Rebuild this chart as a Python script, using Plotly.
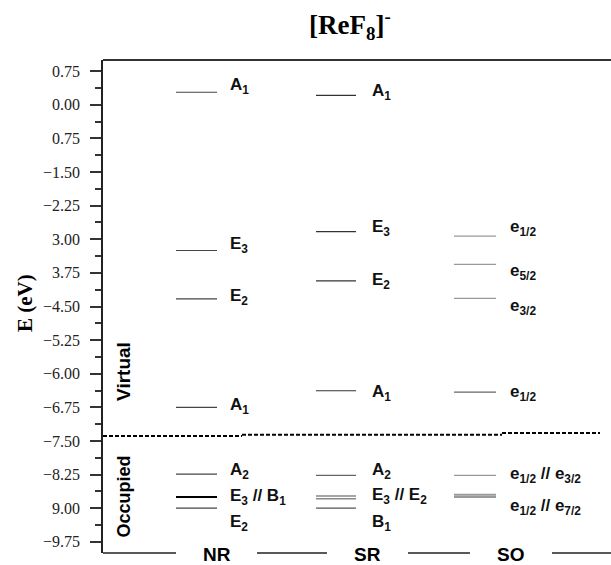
import plotly.graph_objects as go

# ---------------- data ----------------
columns = ["NR", "SR", "SO"]

nr_levels = [0.28, -3.25, -4.33, -6.75, -8.24, -8.75, -9.00]
nr_labels = ["A<sub>1</sub>", "E<sub>3</sub>", "E<sub>2</sub>", "A<sub>1</sub>",
             "A<sub>2</sub>", "E<sub>3</sub> // B<sub>1</sub>", "E<sub>2</sub>"]
nr_label_y = [0.43, -3.12, -4.28, -6.73, -8.17, -8.75, -9.32]

sr_levels = [0.21, -2.83, -3.93, -6.38, -8.27, -8.73, -8.79, -9.00]
sr_labels = ["A<sub>1</sub>", "E<sub>3</sub>", "E<sub>2</sub>", "A<sub>1</sub>",
             "A<sub>2</sub>", "E<sub>3</sub> // E<sub>2</sub>", "B<sub>1</sub>"]
sr_label_y = [0.29, -2.74, -3.94, -6.42, -8.17, -8.72, -9.34]

so_levels = [-2.93, -3.56, -4.32, -6.41, -8.27, -8.70, -8.75]
so_labels = ["e<sub>1/2</sub>", "e<sub>5/2</sub>", "e<sub>3/2</sub>", "e<sub>1/2</sub>",
             "e<sub>1/2</sub> // e<sub>3/2</sub>", "e<sub>1/2</sub> // e<sub>7/2</sub>"]
so_label_y = [-2.74, -3.73, -4.51, -6.44, -8.27, -8.97]

fermi_levels = [-7.39, -7.36, -7.32]

tick_vals = [0.75, 0.0, -0.75, -1.5, -2.25, -3.0, -3.75, -4.5, -5.25, -6.0,
             -6.75, -7.5, -8.25, -9.0, -9.75]
tick_text = ["0.75", "0.00", "0.75", "\u22121.50", "\u22122.25", "3.00", "3.75",
             "\u22124.50", "\u22125.25", "\u22126.00", "\u22126.75", "\u22127.50",
             "\u22128.25", "9.00", "\u22129.75"]

# ---------------- layout constants ----------------
W, H = 611, 565
L, R, T, B = 103, 0, 60, 12
col_span = {"NR": (73, 114), "SR": (213, 253), "SO": (351, 393)}
col_label_x = {"NR": 125, "SR": 267, "SO": 405}
col_title_x = {"NR": 114, "SR": 264, "SO": 407}
fermi_x = [(0, 139), (139, 399), (399, 497)]
bottom_segments = [(0, 73), (154, 224), (305, 367), (449, 508)]

fig = go.Figure()


def add_levels(col, levels, styles):
    x0, x1 = col_span[col]
    for e, (color, width) in zip(levels, styles):
        fig.add_trace(go.Scatter(x=[x0, x1], y=[e, e], mode="lines",
                                 line=dict(color=color, width=width),
                                 hoverinfo="skip", showlegend=False))


add_levels("NR", nr_levels, [("#444", 1.2)] * 5 + [("#000", 2)] + [("#444", 1.2)])
add_levels("SR", sr_levels, [("#333", 1.2)] * 4 + [("#666", 1.2), ("#888", 1.5), ("#888", 1.5), ("#555", 1.2)])
add_levels("SO", so_levels, [("#999", 1.2)] * 3 + [("#666", 1.2), ("#999", 1.2), ("#999", 2), ("#999", 2)])

for (x0, x1), e in zip(fermi_x, fermi_levels):
    fig.add_trace(go.Scatter(x=[x0, x1], y=[e, e], mode="lines",
                             line=dict(color="#000", width=2, dash="4px,2px"),
                             hoverinfo="skip", showlegend=False))

label_font = dict(family="Arial, Liberation Sans", size=17, color="#111")
for col, labs, ys in [("NR", nr_labels, nr_label_y), ("SR", sr_labels, sr_label_y),
                      ("SO", so_labels, so_label_y)]:
    for t, y in zip(labs, ys):
        fig.add_annotation(x=col_label_x[col], y=y, text="<b>" + t + "</b>",
                           showarrow=False, xanchor="left", yanchor="middle",
                           font=label_font)

for col in columns:
    fig.add_annotation(x=col_title_x[col], xref="x", yref="paper", y=-0.003,
                       text="<b>" + col + "</b>",
                       showarrow=False, xanchor="center", yanchor="middle",
                       font=dict(family="Arial, Liberation Sans", size=19, color="#000"))

for x0, x1 in bottom_segments:
    fig.add_shape(type="line", xref="x", yref="paper", x0=x0, x1=x1, y0=0, y1=0,
                  line=dict(color="#222", width=1.5))
fig.add_shape(type="line", xref="paper", yref="paper", x0=0, x1=1, y0=1, y1=1,
              line=dict(color="#333", width=2))

fig.add_annotation(x=21, y=-5.96, text="<b>Virtual</b>", textangle=-90, showarrow=False,
                   xanchor="center", yanchor="middle",
                   font=dict(family="Arial, Liberation Sans", size=19, color="#000"))
fig.add_annotation(x=21, y=-8.74, text="<b>Occupied</b>", textangle=-90, showarrow=False,
                   xanchor="center", yanchor="middle",
                   font=dict(family="Arial, Liberation Sans", size=18, color="#000"))

fig.add_annotation(xref="paper", yref="paper", x=(25 - L) / (W - L - R), y=(H - B - 303) / (H - T - B),
                   text="<b>E (eV)</b>", textangle=-90, showarrow=False,
                   xanchor="center", yanchor="middle",
                   font=dict(family="Times New Roman, Liberation Serif", size=21, color="#000"))
fig.add_annotation(xref="paper", yref="paper", x=(350 - L) / (W - L - R), y=(H - B - 25) / (H - T - B),
                   text="<b>[ReF<sub>8</sub>]<sup>-</sup></b>", showarrow=False,
                   xanchor="center", yanchor="middle",
                   font=dict(family="Times New Roman, Liberation Serif", size=27, color="#000"))

fig.update_layout(
    width=W, height=H, margin=dict(l=L, r=R, t=T, b=B),
    plot_bgcolor="white", paper_bgcolor="white",
    xaxis=dict(range=[0, W - L - R], visible=False, fixedrange=True),
    yaxis=dict(range=[-10.0, 1.0], tickmode="array", tickvals=tick_vals, ticktext=tick_text,
               ticks="outside", ticklen=11, tickwidth=1.5, tickcolor="#333",
               ticklabelstandoff=7,
               showline=True, linecolor="#222", linewidth=1.5, showgrid=False, zeroline=False,
               tickfont=dict(family="Times New Roman, Liberation Serif", size=16, color="#222"),
               minor=dict(tickvals=[v - 0.375 for v in tick_vals],
                          ticks="outside", ticklen=6, tickcolor="#333", tickwidth=1.5, showgrid=False),
               fixedrange=True),
    showlegend=False,
)

fig.write_html("out.html")
